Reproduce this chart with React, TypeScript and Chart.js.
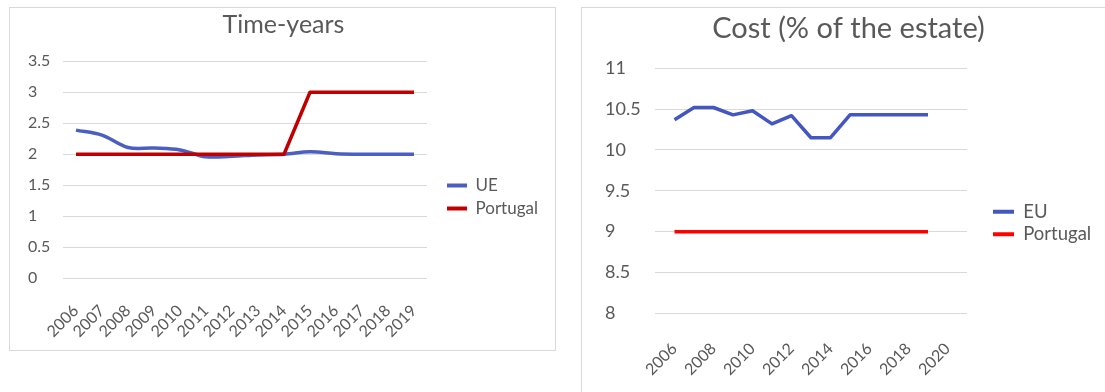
import React, { useEffect, useRef } from 'react';
import { Chart, registerables } from 'chart.js';

Chart.register(...registerables);

// ---- Data: "Time-years" chart ----
const timeCategories = ['2006', '2007', '2008', '2009', '2010', '2011', '2012', '2013', '2014', '2015', '2016', '2017', '2018', '2019'];
const timeUE = [2.39, 2.31, 2.11, 2.1, 2.07, 1.96, 1.97, 1.99, 2.0, 2.04, 2.01, 2.0, 2.0, 2.0];
const timePortugal = [2, 2, 2, 2, 2, 2, 2, 2, 2, 3, 3, 3, 3, 3];
const timeYTicks = [0, 0.5, 1, 1.5, 2, 2.5, 3, 3.5];

// ---- Data: "Cost (% of the estate)" chart ----
const costYears = [2006, 2007, 2008, 2009, 2010, 2011, 2012, 2013, 2014, 2015, 2016, 2017, 2018, 2019];
const costEU = [10.37, 10.52, 10.52, 10.43, 10.48, 10.32, 10.42, 10.15, 10.15, 10.43, 10.43, 10.43, 10.43, 10.43];
const costPortugal = [9, 9, 9, 9, 9, 9, 9, 9, 9, 9, 9, 9, 9, 9];
const costXTicks = [2006, 2008, 2010, 2012, 2014, 2016, 2018, 2020];
const costYTicks = [8, 8.5, 9, 9.5, 10, 10.5, 11];

const FONT = 'Lato';
const TEXT = '#595959';
const GRID = '#d9d9d9';

function lineDataset(label: string, data: any[], color: string, tension: number, order: number) {
  return {
    label,
    data,
    borderColor: color,
    backgroundColor: color,
    pointBorderColor: color,
    pointBackgroundColor: color,
    borderWidth: 3.5,
    pointBorderWidth: 4,
    pointRadius: 0,
    pointHoverRadius: 0,
    tension,
    order,
    borderJoinStyle: 'round' as const,
  };
}

function timeConfig(): any {
  return {
    type: 'line',
    data: {
      labels: timeCategories,
      datasets: [
        lineDataset('UE', timeUE, '#4A5FC1', 0.35, 1),
        lineDataset('Portugal', timePortugal, '#C00000', 0, 0),
      ],
    },
    options: {
      responsive: false,
      animation: false,
      events: [],
      layout: { padding: { left: 18, right: 16, top: 0, bottom: 0 } },
      plugins: {
        title: {
          display: true,
          text: 'Time-years',
          color: TEXT,
          font: { family: FONT, size: 25, weight: 'normal', lineHeight: 1.2 },
          padding: { top: 2, bottom: 21.3 },
        },
        legend: {
          position: 'right',
          align: 'start',
          maxWidth: 98,
          title: { display: true, text: ' ', font: { size: 1, lineHeight: 1 }, padding: { top: 162, bottom: 0 } },
          labels: {
            usePointStyle: true,
            pointStyle: 'line',
            pointStyleWidth: 20,
            padding: 6,
            color: TEXT,
            font: { family: FONT, size: 17 },
            sort: (a: any, b: any) => a.datasetIndex - b.datasetIndex,
          },
        },
        tooltip: { enabled: false },
      },
      scales: {
        x: {
          offset: true,
          grid: { display: false },
          border: { display: false },
          ticks: { autoSkip: false, minRotation: 45, maxRotation: 45, padding: 15, color: TEXT, font: { family: FONT, size: 16 } },
          afterFit: (s: any) => { s.height = 71.7; },
        },
        y: {
          min: 0,
          max: 3.5,
          afterBuildTicks: (s: any) => { s.ticks = timeYTicks.map((v) => ({ value: v })); },
          grid: { color: GRID, drawTicks: false, lineWidth: 1 },
          border: { display: false },
          ticks: { crossAlign: 'far', padding: 0, color: TEXT, font: { family: FONT, size: 16 }, callback: (v: any) => String(v) },
          afterFit: (s: any) => { s.width = 35; },
        },
        pad: {
          type: 'linear',
          position: 'right',
          display: true,
          grid: { display: false },
          border: { display: false },
          ticks: { display: false },
          afterFit: (s: any) => { s.width = 14; },
        },
      },
    },
  };
}

function costConfig(): any {
  return {
    type: 'line',
    data: {
      datasets: [
        lineDataset('EU', costYears.map((x, i) => ({ x, y: costEU[i] })), '#4356C2', 0, 0),
        lineDataset('Portugal', costYears.map((x, i) => ({ x, y: costPortugal[i] })), '#FF0000', 0, 1),
      ],
    },
    options: {
      responsive: false,
      animation: false,
      events: [],
      layout: { padding: { left: 23, right: 13, top: 0, bottom: 0 } },
      plugins: {
        title: {
          display: true,
          text: 'Cost (% of the estate)',
          color: TEXT,
          font: { family: FONT, size: 29, weight: 'normal', lineHeight: 1.2 },
          padding: { top: 3.6, bottom: 21.9 },
        },
        legend: {
          position: 'right',
          align: 'start',
          maxWidth: 103,
          title: { display: true, text: ' ', font: { size: 1, lineHeight: 1 }, padding: { top: 189.5, bottom: 0 } },
          labels: {
            usePointStyle: true,
            pointStyle: 'line',
            pointStyleWidth: 21,
            padding: 4,
            color: TEXT,
            font: { family: FONT, size: 18.5 },
            sort: (a: any, b: any) => a.datasetIndex - b.datasetIndex,
          },
        },
        tooltip: { enabled: false },
      },
      scales: {
        x: {
          type: 'linear',
          min: 2005,
          max: 2021,
          afterBuildTicks: (s: any) => { s.ticks = costXTicks.map((v) => ({ value: v })); },
          grid: { display: false },
          border: { display: false },
          ticks: { autoSkip: false, minRotation: 45, maxRotation: 45, padding: 18, color: TEXT, font: { family: FONT, size: 16 }, callback: (v: any) => String(v) },
          afterFit: (s: any) => { s.height = 78.7; },
        },
        y: {
          min: 8,
          max: 11,
          afterBuildTicks: (s: any) => { s.ticks = costYTicks.map((v) => ({ value: v })); },
          grid: { color: GRID, drawTicks: false, lineWidth: 1 },
          border: { display: false },
          ticks: { crossAlign: 'far', padding: 0, color: TEXT, font: { family: FONT, size: 18 }, callback: (v: any) => String(v) },
          afterFit: (s: any) => { s.width = 50; },
        },
        pad: {
          type: 'linear',
          position: 'right',
          display: true,
          grid: { display: false },
          border: { display: false },
          ticks: { display: false },
          afterFit: (s: any) => { s.width = 22; },
        },
      },
    },
  };
}

function ChartCanvas({ width, height, config }: { width: number; height: number; config: () => any }) {
  const ref = useRef<HTMLCanvasElement | null>(null);
  useEffect(() => {
    if (!ref.current) return;
    const chart = new Chart(ref.current, config());
    return () => chart.destroy();
  }, [config]);
  return <canvas ref={ref} width={width} height={height} style={{ display: 'block', width, height }} />;
}

export default function App() {
  return (
    <div>
      <div
        style={{
          position: 'fixed',
          left: 9,
          top: 7,
          width: 545,
          height: 342,
          border: `1px solid ${GRID}`,
          background: '#fff',
        }}
      >
        <ChartCanvas width={545} height={342} config={timeConfig} />
      </div>
      <div
        style={{
          position: 'fixed',
          left: 581,
          top: 7,
          width: 523,
          height: 384,
          borderLeft: `1px solid ${GRID}`,
          borderTop: `1px solid ${GRID}`,
          background: '#fff',
        }}
      >
        <ChartCanvas width={523} height={384} config={costConfig} />
      </div>
    </div>
  );
}
